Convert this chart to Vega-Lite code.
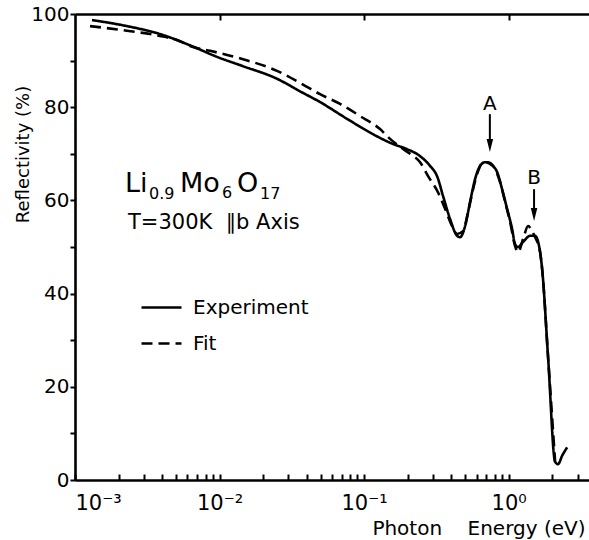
{
  "$schema": "https://vega.github.io/schema/vega-lite/v6.json",
  "width": 514,
  "height": 466,
  "autosize": "none",
  "padding": {"left": 75, "top": 14, "right": 0, "bottom": 60},
  "background": "white",
  "config": {
    "font": "DejaVu Sans",
    "view": {"stroke": null},
    "axis": {
      "grid": false,
      "domainColor": "black",
      "domainWidth": 2.6,
      "tickColor": "black",
      "tickWidth": 2,
      "labelColor": "black",
      "titleColor": "black",
      "labelFont": "DejaVu Sans",
      "titleFont": "DejaVu Sans",
      "titleFontWeight": "normal"
    },
    "text": {"font": "DejaVu Sans", "color": "black"}
  },
  "datasets": {
    "curves": [
      {"E": 0.001311, "R": 98.7, "series": "Experiment"},
      {"E": 0.00229, "R": 97.4, "series": "Experiment"},
      {"E": 0.00387, "R": 95.7, "series": "Experiment"},
      {"E": 0.00656, "R": 93.0, "series": "Experiment"},
      {"E": 0.00961, "R": 90.8, "series": "Experiment"},
      {"E": 0.01454, "R": 88.8, "series": "Experiment"},
      {"E": 0.0250, "R": 86.1, "series": "Experiment"},
      {"E": 0.0361, "R": 83.4, "series": "Experiment"},
      {"E": 0.0496, "R": 81.1, "series": "Experiment"},
      {"E": 0.0763, "R": 77.5, "series": "Experiment"},
      {"E": 0.1154, "R": 74.2, "series": "Experiment"},
      {"E": 0.1588, "R": 72.1, "series": "Experiment"},
      {"E": 0.1984, "R": 71.0, "series": "Experiment"},
      {"E": 0.2440, "R": 69.5, "series": "Experiment"},
      {"E": 0.2862, "R": 67.4, "series": "Experiment"},
      {"E": 0.3200, "R": 65.2, "series": "Experiment"},
      {"E": 0.3522, "R": 60.9, "series": "Experiment"},
      {"E": 0.3938, "R": 56.0, "series": "Experiment"},
      {"E": 0.4402, "R": 52.4, "series": "Experiment"},
      {"E": 0.4619, "R": 52.1, "series": "Experiment"},
      {"E": 0.5000, "R": 54.5, "series": "Experiment"},
      {"E": 0.5416, "R": 59.7, "series": "Experiment"},
      {"E": 0.5864, "R": 64.6, "series": "Experiment"},
      {"E": 0.6351, "R": 67.4, "series": "Experiment"},
      {"E": 0.6877, "R": 68.2, "series": "Experiment"},
      {"E": 0.7447, "R": 67.8, "series": "Experiment"},
      {"E": 0.8324, "R": 66.1, "series": "Experiment"},
      {"E": 0.9016, "R": 62.4, "series": "Experiment"},
      {"E": 0.9763, "R": 58.2, "series": "Experiment"},
      {"E": 1.057, "R": 53.9, "series": "Experiment"},
      {"E": 1.109, "R": 50.6, "series": "Experiment"},
      {"E": 1.163, "R": 50.0, "series": "Experiment"},
      {"E": 1.260, "R": 51.1, "series": "Experiment"},
      {"E": 1.409, "R": 52.4, "series": "Experiment"},
      {"E": 1.526, "R": 52.4, "series": "Experiment"},
      {"E": 1.601, "R": 51.1, "series": "Experiment"},
      {"E": 1.652, "R": 48.9, "series": "Experiment"},
      {"E": 1.706, "R": 45.3, "series": "Experiment"},
      {"E": 1.877, "R": 26.2, "series": "Experiment"},
      {"E": 2.098, "R": 3.9, "series": "Experiment"},
      {"E": 2.201, "R": 3.4, "series": "Experiment"},
      {"E": 2.346, "R": 5.2, "series": "Experiment"},
      {"E": 2.540, "R": 7.0, "series": "Experiment"},
      {"E": 0.00127, "R": 97.4, "series": "Fit"},
      {"E": 0.00229, "R": 96.4, "series": "Fit"},
      {"E": 0.00387, "R": 95.3, "series": "Fit"},
      {"E": 0.00508, "R": 94.4, "series": "Fit"},
      {"E": 0.00656, "R": 92.9, "series": "Fit"},
      {"E": 0.0086, "R": 92.1, "series": "Fit"},
      {"E": 0.01454, "R": 90.3, "series": "Fit"},
      {"E": 0.0250, "R": 87.8, "series": "Fit"},
      {"E": 0.0361, "R": 85.2, "series": "Fit"},
      {"E": 0.0496, "R": 82.8, "series": "Fit"},
      {"E": 0.0682, "R": 80.7, "series": "Fit"},
      {"E": 0.0938, "R": 78.1, "series": "Fit"},
      {"E": 0.1290, "R": 75.3, "series": "Fit"},
      {"E": 0.1513, "R": 73.2, "series": "Fit"},
      {"E": 0.1774, "R": 71.5, "series": "Fit"},
      {"E": 0.2081, "R": 70.0, "series": "Fit"},
      {"E": 0.2440, "R": 68.2, "series": "Fit"},
      {"E": 0.2773, "R": 65.2, "series": "Fit"},
      {"E": 0.3252, "R": 61.7, "series": "Fit"},
      {"E": 0.3636, "R": 58.2, "series": "Fit"},
      {"E": 0.4064, "R": 54.5, "series": "Fit"},
      {"E": 0.4402, "R": 52.8, "series": "Fit"},
      {"E": 0.4843, "R": 53.4, "series": "Fit"},
      {"E": 0.5244, "R": 57.5, "series": "Fit"},
      {"E": 0.5679, "R": 62.4, "series": "Fit"},
      {"E": 0.6151, "R": 66.3, "series": "Fit"},
      {"E": 0.6660, "R": 68.2, "series": "Fit"},
      {"E": 0.7212, "R": 68.2, "series": "Fit"},
      {"E": 0.8066, "R": 66.7, "series": "Fit"},
      {"E": 0.8733, "R": 63.9, "series": "Fit"},
      {"E": 0.9458, "R": 59.7, "series": "Fit"},
      {"E": 1.024, "R": 55.4, "series": "Fit"},
      {"E": 1.109, "R": 50.2, "series": "Fit"},
      {"E": 1.163, "R": 48.9, "series": "Fit"},
      {"E": 1.260, "R": 51.7, "series": "Fit"},
      {"E": 1.364, "R": 54.5, "series": "Fit"},
      {"E": 1.454, "R": 53.4, "series": "Fit"},
      {"E": 1.526, "R": 52.1, "series": "Fit"},
      {"E": 1.601, "R": 50.6, "series": "Fit"},
      {"E": 1.652, "R": 48.9, "series": "Fit"},
      {"E": 1.706, "R": 45.3, "series": "Fit"},
      {"E": 1.877, "R": 26.2, "series": "Fit"},
      {"E": 2.098, "R": 3.9, "series": "Fit"}
    ],
    "peaks": [
      {"E": 0.742, "R": 79.4, "t": "A", "top": 78.5, "shaftEnd": 72.3, "tip": 70.4},
      {"E": 1.50, "R": 63.5, "t": "B", "top": 62.4, "shaftEnd": 57.5, "tip": 55.6}
    ],
    "formulaBig": [
      {"E": 0.00222, "R": 61.8, "t": "Li"},
      {"E": 0.00533, "R": 61.8, "t": "Mo"},
      {"E": 0.01321, "R": 61.8, "t": "O"}
    ],
    "formulaSub": [
      {"E": 0.00325, "R": 60.3, "t": "0.9"},
      {"E": 0.0104, "R": 60.5, "t": "6"},
      {"E": 0.01907, "R": 60.3, "t": "17"}
    ],
    "conditions": [
      {"E": 0.002326, "R": 53.9, "t": "T=300K\u00a0\u00a0∥b\u00a0Axis"}
    ]
  },
  "resolve": {"axis": {"x": "independent", "y": "independent"}},
  "layer": [
    {
      "data": {"name": "curves"},
      "mark": {"type": "line", "color": "black", "strokeWidth": 2.6, "interpolate": "monotone"},
      "encoding": {
        "x": {
          "field": "E", "type": "quantitative",
          "scale": {"type": "log", "domain": [0.001, 3.6], "nice": false},
          "axis": {
            "orient": "bottom",
            "values": [0.001, 0.002, 0.003, 0.004, 0.005, 0.006, 0.007, 0.008, 0.009, 0.01, 0.02, 0.03, 0.04, 0.05, 0.06, 0.07, 0.08, 0.09, 0.1, 0.2, 0.3, 0.4, 0.5, 0.6, 0.7, 0.8, 0.9, 1, 2, 3],
            "tickSize": -6,
            "labelExpr": "datum.value === 0.001 ? '10⁻³' : datum.value === 0.01 ? '10⁻²' : datum.value === 0.1 ? '10⁻¹' : datum.value === 1 ? '10⁰' : ''",
            "labelFontSize": 21,
            "labelPadding": 18,
            "labelFlush": true,
            "labelOverlap": false,
            "labelBound": false,
            "title": "Photon\u00a0\u00a0\u00a0\u00a0Energy (eV)",
            "titleFontSize": 20,
            "titleX": 510,
            "titleY": 48,
            "titleAlign": "right",
            "titleBaseline": "middle"
          }
        },
        "y": {
          "field": "R", "type": "quantitative",
          "scale": {"domain": [0, 100], "nice": false, "zero": false},
          "axis": {
            "orient": "left",
            "values": [0, 10, 20, 30, 40, 50, 60, 70, 80, 90, 100],
            "labelExpr": "datum.value % 20 === 0 ? datum.label : ''",
            "tickSize": 5,
            "labelPadding": 1,
            "labelFontSize": 20,
            "title": "Reflectivity (%)",
            "titleFontSize": 18,
            "titleX": -52,
            "titleY": 140,
            "titleAngle": -90,
            "titleAlign": "center",
            "titleBaseline": "middle"
          }
        },
        "strokeDash": {
          "field": "series", "type": "nominal",
          "scale": {"domain": ["Experiment", "Fit"], "range": [[1, 0], [11, 6]]},
          "legend": {
            "orient": "none",
            "legendX": 65,
            "legendY": 272,
            "title": null,
            "symbolType": "stroke",
            "symbolSize": 1600,
            "symbolStrokeWidth": 2.6,
            "symbolStrokeColor": "black",
            "labelFontSize": 20,
            "labelFont": "DejaVu Sans",
            "labelColor": "black",
            "labelOffset": 10,
            "rowPadding": 4,
            "padding": 0
          }
        }
      }
    },
    {
      "data": {"name": "peaks"},
      "mark": {"type": "text", "fontSize": 20, "align": "center", "baseline": "alphabetic"},
      "encoding": {
        "x": {
          "field": "E", "type": "quantitative",
          "scale": {"type": "log", "domain": [0.001, 3.6], "nice": false},
          "axis": {"orient": "top", "values": [0.01, 0.1, 1], "labels": false, "tickSize": -6, "title": null}
        },
        "y": {"field": "R", "type": "quantitative", "scale": {"domain": [0, 100], "nice": false, "zero": false}, "axis": null},
        "text": {"field": "t"}
      }
    },
    {
      "data": {"name": "peaks"},
      "mark": {"type": "rule", "color": "black", "strokeWidth": 2},
      "encoding": {
        "x": {"field": "E", "type": "quantitative", "scale": {"type": "log", "domain": [0.001, 3.6], "nice": false}, "axis": null},
        "y": {"field": "top", "type": "quantitative", "scale": {"domain": [0, 100], "nice": false, "zero": false}, "axis": null},
        "y2": {"field": "shaftEnd"}
      }
    },
    {
      "data": {"name": "peaks"},
      "mark": {"type": "point", "shape": "M-0.5,-2L0.5,-2L0,0Z", "size": 169, "filled": true, "color": "black", "opacity": 1},
      "encoding": {
        "x": {"field": "E", "type": "quantitative", "scale": {"type": "log", "domain": [0.001, 3.6], "nice": false}, "axis": null},
        "y": {"field": "tip", "type": "quantitative", "scale": {"domain": [0, 100], "nice": false, "zero": false}, "axis": null}
      }
    },
    {
      "data": {"name": "formulaBig"},
      "mark": {"type": "text", "fontSize": 27, "align": "left", "baseline": "alphabetic"},
      "encoding": {
        "x": {"field": "E", "type": "quantitative", "scale": {"type": "log", "domain": [0.001, 3.6], "nice": false}, "axis": null},
        "y": {"field": "R", "type": "quantitative", "scale": {"domain": [0, 100], "nice": false, "zero": false}, "axis": null},
        "text": {"field": "t"}
      }
    },
    {
      "data": {"name": "formulaSub"},
      "mark": {"type": "text", "fontSize": 16, "align": "left", "baseline": "alphabetic"},
      "encoding": {
        "x": {"field": "E", "type": "quantitative", "scale": {"type": "log", "domain": [0.001, 3.6], "nice": false}, "axis": null},
        "y": {"field": "R", "type": "quantitative", "scale": {"domain": [0, 100], "nice": false, "zero": false}, "axis": null},
        "text": {"field": "t"}
      }
    },
    {
      "data": {"name": "conditions"},
      "mark": {"type": "text", "fontSize": 21, "align": "left", "baseline": "alphabetic"},
      "encoding": {
        "x": {"field": "E", "type": "quantitative", "scale": {"type": "log", "domain": [0.001, 3.6], "nice": false}, "axis": null},
        "y": {"field": "R", "type": "quantitative", "scale": {"domain": [0, 100], "nice": false, "zero": false}, "axis": null},
        "text": {"field": "t"}
      }
    }
  ]
}
